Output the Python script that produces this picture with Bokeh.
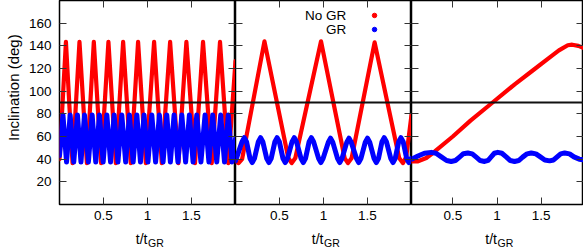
from math import pi
from bokeh.plotting import figure
from bokeh.models import Range1d, LinearAxis, FixedTicker, Span, Label, NumeralTickFormatter
from bokeh.layouts import row, column
from bokeh.embed import file_html
from bokeh.resources import INLINE

# ---------------- data ----------------
Y_TICKS = [20, 40, 60, 80, 100, 120, 140, 160]
X_TICKS = [0.5, 1, 1.5]
Y_LABEL = "Inclination (deg)"
X_LABEL_MAIN = "t/t"
X_LABEL_SUB = "GR"
LEGEND_LABELS = ["No GR", "GR"]
REF_LINE = 90

# panel 1
red1_t = [0.0, 0.073, 0.148, 0.227, 0.311, 0.390, 0.473, 0.556, 0.640, 0.723, 0.810, 0.893,
          0.981, 1.075, 1.162, 1.257, 1.351, 1.442, 1.540, 1.631, 1.730, 1.824, 1.918, 2.0]
red1_v = [40, 143.5, 36.5, 143.5, 36.5, 143.5, 36.5, 143.5, 36.5, 143.5, 36.5, 143.5,
          36.5, 143.5, 36.5, 143.5, 36.5, 143.5, 36.5, 143.5, 36.5, 143.5, 36.5, 126.5]

blue1_t = [0.0, 0.039, 0.080, 0.121, 0.162, 0.204, 0.244, 0.284, 0.328, 0.371, 0.412, 0.454,
           0.496, 0.538, 0.580, 0.621, 0.664, 0.708, 0.752, 0.795, 0.837, 0.879, 0.920, 0.961,
           1.005, 1.049, 1.092, 1.135, 1.177, 1.219, 1.260, 1.302, 1.346, 1.390, 1.433, 1.476,
           1.518, 1.560, 1.607, 1.654, 1.698, 1.741, 1.787, 1.832, 1.875, 1.918, 1.960, 2.0]
blue1_v = [43, 79, 37.5, 79, 37.5, 79, 37.5, 79, 37.5, 79, 37.5, 79,
           37.5, 79, 37.5, 79, 37.5, 79, 37.5, 79, 37.5, 79, 37.5, 79,
           37.5, 79, 37.5, 79, 37.5, 79, 37.5, 79, 37.5, 79, 37.5, 79,
           37.5, 79, 37.5, 79, 37.5, 79, 37.5, 79, 37.5, 79, 37.5, 58]

# panel 2
red2_t = [0.0, 0.035, 0.075, 0.329, 0.60, 0.639, 0.68, 0.972, 1.24, 1.278, 1.32, 1.581,
          1.86, 1.902, 1.94, 2.0]
red2_v = [38, 36.5, 40, 144, 41, 36.5, 41, 144, 41, 36.5, 41, 143,
          41, 36.5, 42, 79]

blue2_t = [0.0,
           0.075, 0.10, 0.125, 0.165, 0.19, 0.215,
           0.26, 0.285, 0.31, 0.355, 0.38, 0.405,
           0.448, 0.473, 0.498, 0.54, 0.565, 0.59,
           0.643, 0.668, 0.693, 0.745, 0.77, 0.795,
           0.837, 0.862, 0.887, 0.945, 0.97, 0.995,
           1.055, 1.08, 1.105, 1.16, 1.185, 1.21,
           1.265, 1.29, 1.315, 1.375, 1.40, 1.425,
           1.475, 1.50, 1.525, 1.575, 1.60, 1.625,
           1.665, 1.69, 1.715, 1.765, 1.79, 1.815,
           1.855, 1.88, 1.905, 1.945, 1.97, 2.0]
blue2_v = [38.5,
           55.5, 59, 55.5, 40.5, 37, 40.5,
           55.5, 59, 55.5, 40.5, 37, 40.5,
           55.5, 59, 55.5, 40.5, 37, 40.5,
           55.5, 59, 55.5, 40.5, 37, 40.5,
           55.5, 59, 55.5, 40.5, 37, 40.5,
           55, 58.5, 55, 40.5, 37, 40.5,
           55, 58.5, 55, 40.5, 37, 40.5,
           55, 58.5, 55, 40.5, 37, 40.5,
           55.5, 59, 55.5, 40.5, 37, 40.5,
           55.5, 59, 55.5, 40.5, 37, 41]

# panel 3
red3_t = [0.0, 0.1, 0.2, 0.3, 0.5, 0.7, 0.95, 1.2, 1.4, 1.6, 1.7, 1.8, 1.85, 1.92, 2.0]
red3_v = [38, 38, 41, 47, 60, 74, 90, 106, 118, 130, 136, 140.5, 141, 140, 137.5]

blue3_t = [0.033, 0.10, 0.18, 0.256, 0.31, 0.37, 0.43, 0.482, 0.53, 0.576, 0.62, 0.670,
           0.72, 0.765, 0.81, 0.859, 0.90, 0.934, 0.97, 1.009, 1.055, 1.104, 1.15, 1.198,
           1.245, 1.29, 1.34, 1.387, 1.44, 1.49, 1.54, 1.595, 1.64, 1.68, 1.72, 1.765,
           1.82, 1.87, 1.93, 1.98]
blue3_v = [40, 42.5, 45.3, 46, 45.2, 42, 38.8, 38, 38.8, 41.8, 44.8, 45.5,
           44.7, 41.8, 38.8, 38, 39, 42, 45.2, 46, 45.2, 42, 38.8, 38,
           38.8, 41.8, 44.7, 45.5, 44.7, 42, 39.2, 38.5, 39.3, 42, 44.7, 45.5,
           44.7, 42, 40, 39.5]

# ---------------- styling / layout ----------------
FONT = "Liberation Sans"
RED = "#ff0000"
BLUE = "#0000ff"
Y_RANGE = (0, 180)
FRAME_H = 204           # frame height in px
BOTTOM = 23             # room for x tick labels
H = FRAME_H + BOTTOM    # main row height
YLAB_W = 24             # strip holding the y-axis title
LEFT_BORDER = 35        # y tick labels inside first panel
PANEL_W = [176, 176, 172]
X_RANGES = [(0, 2), (0, 2), (0.033, 1.978)]
XLAB_H = 20             # strip holding the x-axis titles


def add_axis(p, side, dim, labels):
    ticks = X_TICKS if dim == "x" else Y_TICKS
    ax = LinearAxis(ticker=FixedTicker(ticks=ticks))
    ax.axis_line_color = None
    ax.major_tick_in = 7
    ax.major_tick_out = 0
    ax.major_tick_line_color = "#333333"
    ax.major_tick_line_width = 1
    ax.minor_tick_line_color = None
    if labels:
        ax.major_label_text_font = FONT
        ax.major_label_text_font_size = "13.5px"
        ax.major_label_text_color = "black"
        ax.major_label_standoff = 6 if dim == "x" else 8
        if dim == "x":
            ax.formatter = NumeralTickFormatter(format="0.[0]")
    else:
        ax.major_label_text_font_size = "0px"
        ax.major_label_text_color = None
        ax.major_label_standoff = 0
    p.add_layout(ax, side)


def make_panel(idx, ylabels, series):
    left = LEFT_BORDER if ylabels else 0
    p = figure(width=PANEL_W[idx] + left, height=H,
               x_range=Range1d(*X_RANGES[idx]), y_range=Range1d(*Y_RANGE),
               output_backend="svg", toolbar_location=None,
               x_axis_location=None, y_axis_location=None,
               min_border_left=left, min_border_right=0,
               min_border_top=0, min_border_bottom=BOTTOM)
    p.grid.grid_line_color = None
    p.background_fill_color = "white"
    p.border_fill_color = "white"
    p.outline_line_color = "black"
    p.outline_line_width = 1.5
    add_axis(p, "below", "x", True)
    add_axis(p, "above", "x", False)
    add_axis(p, "left", "y", ylabels)
    add_axis(p, "right", "y", False)
    p.add_layout(Span(location=REF_LINE, dimension="width", line_color="#111111", line_width=2))
    (rt, rv), (bt, bv) = series
    p.line(rt, rv, line_color=RED, line_width=4.2, line_join="round", line_cap="round")
    p.line(bt, bv, line_color=BLUE, line_width=5, line_join="round", line_cap="round")
    return p


p1 = make_panel(0, True, [(red1_t, red1_v), (blue1_t, blue1_v)])
p2 = make_panel(1, False, [(red2_t, red2_v), (blue2_t, blue2_v)])
p3 = make_panel(2, False, [(red3_t, red3_v), (blue3_t, blue3_v)])

# legend (text on the left, marker on the right) inside the middle panel
p2.add_layout(Label(x=1.258, y=166.8, text=LEGEND_LABELS[0], text_align="right",
                    text_baseline="middle", text_font=FONT, text_font_size="13.5px",
                    text_color="black"))
p2.add_layout(Label(x=1.258, y=154.4, text=LEGEND_LABELS[1], text_align="right",
                    text_baseline="middle", text_font=FONT, text_font_size="13.5px",
                    text_color="black"))
p2.scatter([1.58], [166.8], size=4.5, color=RED)
p2.scatter([1.58], [154.4], size=4.5, color=BLUE)


def blank(width, height):
    f = figure(width=width, height=height, x_range=Range1d(0, width), y_range=Range1d(0, height),
               output_backend="svg", toolbar_location=None,
               x_axis_location=None, y_axis_location=None,
               min_border_left=0, min_border_right=0, min_border_top=0, min_border_bottom=0)
    f.grid.grid_line_color = None
    f.outline_line_color = None
    f.background_fill_color = "white"
    f.border_fill_color = "white"
    return f


# y-axis title strip
ylab = blank(YLAB_W, H)
ylab.add_layout(Label(x=13, y=H - 97, text=Y_LABEL, angle=pi / 2, text_align="center",
                      text_baseline="middle", text_font=FONT, text_font_size="15px",
                      text_color="black"))

# x-axis titles strip (t/t with subscript GR under each panel, at t = 1)
total_w = YLAB_W + LEFT_BORDER + sum(PANEL_W)
xlab = blank(total_w, XLAB_H)
frame_left = YLAB_W + LEFT_BORDER
for i in range(3):
    x0, x1 = X_RANGES[i]
    cx = frame_left + (1.0 - x0) / (x1 - x0) * PANEL_W[i]
    xlab.add_layout(Label(x=cx, y=XLAB_H - 11, text=X_LABEL_MAIN, text_align="right",
                          text_baseline="alphabetic", text_font=FONT, text_font_size="14px",
                          text_color="black"))
    xlab.add_layout(Label(x=cx + 0.5, y=XLAB_H - 15, text=X_LABEL_SUB, text_align="left",
                          text_baseline="alphabetic", text_font=FONT, text_font_size="10.5px",
                          text_color="black"))
    frame_left += PANEL_W[i]

layout = column(row(ylab, p1, p2, p3, spacing=0), xlab, spacing=0)
open("out.html", "w").write(file_html(layout, INLINE))
